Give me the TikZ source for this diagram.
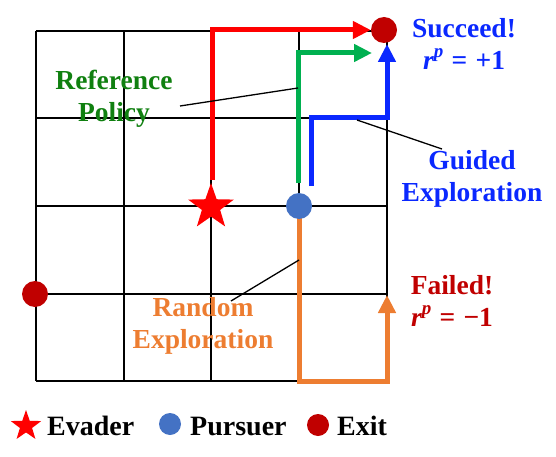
\documentclass[tikz,border=0pt]{standalone}
\usepackage{fontspec}
\setmainfont{Liberation Serif}
\usetikzlibrary{arrows.meta,shapes.geometric}
\definecolor{cRed}{RGB}{255,0,0}
\definecolor{cGreen}{RGB}{0,176,80}
\definecolor{cBlue}{RGB}{10,40,255}
\definecolor{cOrange}{RGB}{237,125,49}
\definecolor{cPurs}{RGB}{68,114,196}
\definecolor{cExit}{RGB}{192,0,0}
\definecolor{cRefTxt}{RGB}{16,128,16}
\newcommand{\rwd}[1]{\textit{r}\raisebox{0.42em}{\fontsize{19}{19}\selectfont\textit{p}}\hspace{0.3em}=\hspace{0.3em}#1}
\tikzset{
  gridline/.style={line width=2.2pt,black},
  pathline/.style={line width=5pt,-{Triangle[length=18pt,width=17pt]}},
  noteline/.style={line width=1.3pt,black},
  lbl/.style={font=\fontsize{27.5}{32}\selectfont\bfseries,align=center,inner sep=0pt},
  legtxt/.style={font=\fontsize{28}{32}\selectfont\bfseries,anchor=west,inner sep=0pt},
  dot/.style={circle,inner sep=0pt,minimum size=26pt},
  evstar/.style={star,star points=5,star point ratio=2.5,fill=cRed,inner sep=0pt,minimum size=48pt},
}
\begin{document}
\begin{tikzpicture}[x=1pt,y=-1pt]
\useasboundingbox (0,0) rectangle (556,457);
% grid
\foreach \v in {36,124,211,299,387}{\draw[gridline] (\v,31) -- (\v,381);}
\foreach \h in {31,118,206,294,381}{\draw[gridline] (36,\h) -- (387,\h);}
% nodes
\node[dot,fill=cExit] (ex1) at (384,30) {};
\node[dot,fill=cExit] (ex2) at (35,294) {};
\coordinate (rs) at (212,180);
\coordinate (gs) at (298,183);
\coordinate (ge) at (372,53);
\coordinate (bs) at (311,186);
\coordinate (be) at (387,44);
\coordinate (os) at (299,210);
\coordinate (oe) at (387,295);
% paths
\draw[pathline,cGreen] (gs) |- (ge);
\draw[pathline,cBlue] (bs) -- (311,118) -| (be);
\draw[pathline,cRed] (rs) |- (ex1.west);
\draw[pathline,cOrange] (os) -- (299,381) -| (oe);
\node[evstar] (ev) at (211,207) {};
\node[dot,fill=cPurs] (pu) at (299,206) {};
% labels
\node[lbl,text=cRefTxt] (ref) at (114,99) {Reference\\Policy};
\node[lbl,text=cBlue] (succ) at (464,44) {Succeed!\\\rwd{+1}};
\node[lbl,text=cBlue] (guid) at (472,179) {Guided\\Exploration};
\node[lbl,text=cOrange] (rand) at (203,326) {Random\\Exploration};
\node[lbl,text=cExit] (fail) at (452,301) {Failed!\\\rwd{−1}};
% annotation lines
\coordinate (refp) at (298,88);
\coordinate (guip) at (357,120);
\coordinate (ranp) at (299,260);
\draw[noteline] (180,106) -- (refp);
\draw[noteline] (guip) -- (442,149);
\draw[noteline] (231,301) -- (ranp);
% legend
\node[evstar,minimum size=32pt] (lev) at (26,426) {};
\node[legtxt] (tev) at (47,426) {Evader};
\node[dot,fill=cPurs,minimum size=22pt] (lpu) at (170,424) {};
\node[legtxt] (tpu) at (190,426) {Pursuer};
\node[dot,fill=cExit,minimum size=22pt] (lex) at (318,425) {};
\node[legtxt] (tex) at (337,426) {Exit};
\end{tikzpicture}
\end{document}
